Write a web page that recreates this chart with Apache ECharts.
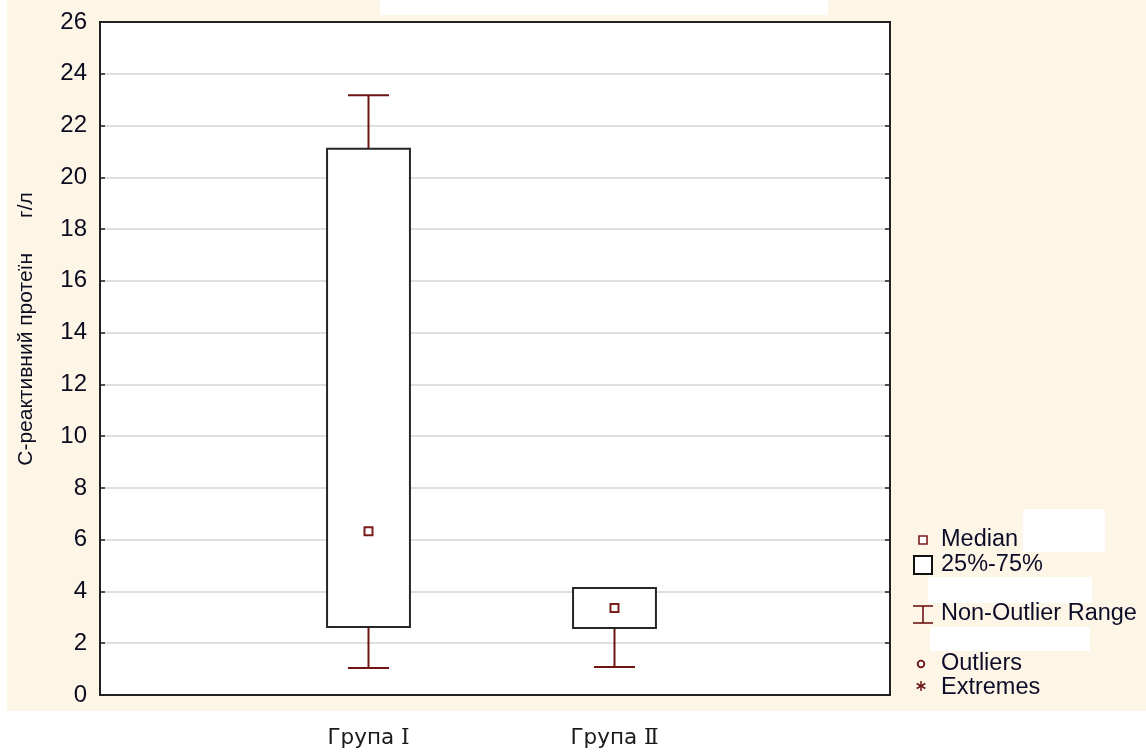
<!DOCTYPE html>
<html>
<head>
<meta charset="utf-8">
<script src="https://cdn.jsdelivr.net/npm/echarts@6/dist/echarts.min.js"></script>
<style>html,body{margin:0;padding:0;background:#fff;}#c{width:1146px;height:756px;}</style>
</head>
<body>
<div id="c"></div>
<script>
// ---- data ----
const categories = ['Група Ⅰ', 'Група Ⅱ'];
const whiskerLow = [1.04, 1.08];
const q1 = [2.63, 2.59];
const median = [6.33, 3.36];
const q3 = [21.1, 4.13];
const whiskerHigh = [23.17, 4.13];
const yMin = 0, yMax = 26, yStep = 2;
const yTitle = 'С-реактивний протеїн      г/л';
const legendLabels = ['Median', '25%-75%', 'Non-Outlier Range', 'Outliers', 'Extremes'];

const WHISK = '#6e1414';
const BOX = '#262626';
const FONT = '"Liberation Sans", Arial, sans-serif';
const XMIN = -1.0915, XMAX = 2.12;

const boxData = categories.map((c, i) => [i, whiskerLow[i], q1[i], median[i], q3[i], whiskerHigh[i]]);

function renderItem(params, api) {
  const i = api.value(0);
  const pLow = api.coord([i, api.value(1)]);
  const pQ1 = api.coord([i, api.value(2)]);
  const pMed = api.coord([i, api.value(3)]);
  const pQ3 = api.coord([i, api.value(4)]);
  const pHigh = api.coord([i, api.value(5)]);
  const x = pQ1[0];
  const hw = api.size([0.337, 0])[0] / 2;
  const cw = api.size([0.167, 0])[0] / 2;
  const ls = { stroke: WHISK, lineWidth: 2, fill: null };
  const children = [];
  children.push({ type: 'line', shape: { x1: x, y1: pLow[1], x2: x, y2: pQ1[1] }, style: ls });
  children.push({ type: 'line', shape: { x1: x - cw, y1: pLow[1], x2: x + cw, y2: pLow[1] }, style: ls });
  if (api.value(5) > api.value(4)) {
    children.push({ type: 'line', shape: { x1: x, y1: pHigh[1], x2: x, y2: pQ3[1] }, style: ls });
    children.push({ type: 'line', shape: { x1: x - cw, y1: pHigh[1], x2: x + cw, y2: pHigh[1] }, style: ls });
  }
  children.push({ type: 'rect', shape: { x: x - hw, y: pQ3[1], width: hw * 2, height: pQ1[1] - pQ3[1] },
    style: { fill: '#fff', stroke: BOX, lineWidth: 2 } });
  children.push({ type: 'rect', shape: { x: x - 4, y: pMed[1] - 4, width: 8, height: 8 },
    style: { fill: '#fff', stroke: '#7a1c1c', lineWidth: 2 } });
  return { type: 'group', children };
}

const legendY = [540, 565, 614, 664, 688];
const graphics = [
  { type: 'rect', shape: { x: 0, y: 711, width: 1146, height: 45 }, style: { fill: '#fff' }, silent: true },
  { type: 'rect', shape: { x: 0, y: 0, width: 7, height: 711 }, style: { fill: '#fff' }, silent: true },
  { type: 'rect', shape: { x: 380, y: 0, width: 448, height: 15 }, style: { fill: '#fff' }, silent: true },
  { type: 'rect', shape: { x: 1023, y: 509, width: 82, height: 43 }, style: { fill: '#fff' }, silent: true },
  { type: 'rect', shape: { x: 928, y: 577, width: 164, height: 26 }, style: { fill: '#fff' }, silent: true },
  { type: 'rect', shape: { x: 930, y: 627, width: 160, height: 24 }, style: { fill: '#fff' }, silent: true },
  // y axis title
  { type: 'text', x: 26, y: 329, rotation: Math.PI / 2,
    style: { text: yTitle, font: '21px ' + FONT, fill: '#0c0c20', textAlign: 'center', textVerticalAlign: 'middle' } },
  // legend icons
  { type: 'rect', shape: { x: 919, y: 536, width: 8, height: 8 }, style: { fill: '#fff', stroke: '#7a1c1c', lineWidth: 1.6 } },
  { type: 'rect', shape: { x: 914, y: 556, width: 18, height: 18 }, style: { fill: '#fff', stroke: '#111', lineWidth: 2 } },
  { type: 'line', shape: { x1: 913, y1: 606, x2: 933, y2: 606 }, style: { stroke: WHISK, lineWidth: 1.6 } },
  { type: 'line', shape: { x1: 923, y1: 606, x2: 923, y2: 623 }, style: { stroke: WHISK, lineWidth: 1.6 } },
  { type: 'line', shape: { x1: 913, y1: 623, x2: 933, y2: 623 }, style: { stroke: WHISK, lineWidth: 1.6 } },
  { type: 'circle', shape: { cx: 921, cy: 664, r: 3.3 }, style: { fill: '#fff', stroke: WHISK, lineWidth: 1.8 } },
  { type: 'line', shape: { x1: 921, y1: 681, x2: 921, y2: 691 }, style: { stroke: WHISK, lineWidth: 1.5 } },
  { type: 'line', shape: { x1: 916.7, y1: 683.5, x2: 925.3, y2: 688.5 }, style: { stroke: WHISK, lineWidth: 1.5 } },
  { type: 'line', shape: { x1: 916.7, y1: 688.5, x2: 925.3, y2: 683.5 }, style: { stroke: WHISK, lineWidth: 1.5 } }
];
legendLabels.forEach((t, k) => {
  graphics.push({ type: 'text', x: 941, y: legendY[k],
    style: { text: t, font: '23.5px ' + FONT, fill: '#0c0c28', textAlign: 'left', textVerticalAlign: 'middle' } });
});

function catLabel(v) {
  const s = categories[Math.round(v)] || '';
  const k = s.lastIndexOf(' ');
  return '{a|' + s.slice(0, k + 1) + '}{b|' + s.slice(k + 1) + '}';
}

const chart = echarts.init(document.getElementById('c'), null, { renderer: 'canvas' });
chart.setOption({
  backgroundColor: '#fdf6e7',
  animation: false,
  grid: { left: 100, right: 256, top: 22, bottom: 61, show: true, backgroundColor: '#fff', borderColor: '#222', borderWidth: 2 },
  xAxis: [
    {
      type: 'value', min: XMIN, max: XMAX, position: 'bottom',
      axisLine: { show: true, onZero: false, lineStyle: { color: '#222', width: 2 } },
      axisTick: { show: false }, splitLine: { show: false },
      axisLabel: {
        customValues: categories.map((c, i) => i),
        formatter: catLabel,
        margin: 32,
        rich: {
          a: { fontFamily: '"DejaVu Sans", sans-serif', fontSize: 21.5, color: '#1a1a1a' },
          b: { fontFamily: '"DejaVu Serif", serif', fontSize: 21.5, color: '#1a1a1a' }
        }
      }
    },
    {
      type: 'value', min: XMIN, max: XMAX, position: 'top',
      axisLine: { show: true, onZero: false, lineStyle: { color: '#222', width: 2 } },
      axisTick: { show: false }, splitLine: { show: false }, axisLabel: { show: false }
    }
  ],
  yAxis: [
    {
      type: 'value', min: yMin, max: yMax, interval: yStep, position: 'left',
      axisLine: { show: true, onZero: false, lineStyle: { color: '#222', width: 2 } },
      axisTick: { show: true, inside: true, length: 5, lineStyle: { color: '#222', width: 1.5 } },
      splitLine: { show: true, lineStyle: { color: '#d4d4d4', width: 1.5 } },
      axisLabel: { fontFamily: FONT, fontSize: 24, color: '#0c0c20', margin: 13 }
    },
    {
      type: 'value', min: yMin, max: yMax, interval: yStep, position: 'right',
      axisLine: { show: true, onZero: false, lineStyle: { color: '#222', width: 2 } },
      axisTick: { show: true, inside: true, length: 5, lineStyle: { color: '#222', width: 1.5 } },
      splitLine: { show: false },
      axisLabel: { show: false }
    }
  ],
  series: [{
    type: 'custom', renderItem, data: boxData, encode: { x: 0, y: [1, 2, 3, 4, 5] }, z: 5
  }],
  graphic: graphics
});
</script>
</body>
</html>
